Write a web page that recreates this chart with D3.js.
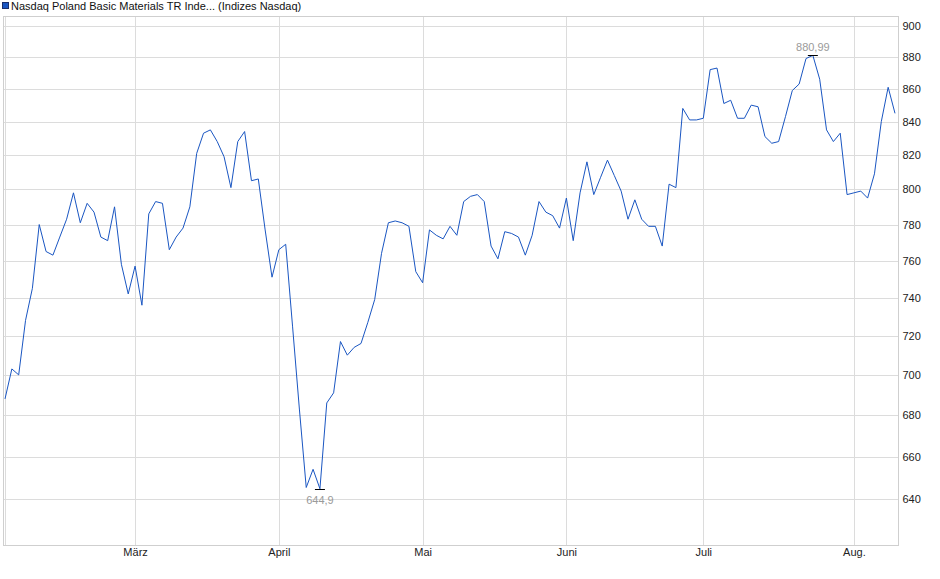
<!DOCTYPE html>
<html>
<head>
<meta charset="utf-8">
<script src="https://cdn.jsdelivr.net/npm/d3@7"></script>
<style>
  body { margin: 0; background: #fff; }
  svg { display: block; font-family: "Liberation Sans", Arial, sans-serif; }
</style>
</head>
<body>
<div id="chart"></div>
<script>
// closing values, one per trading day (Feb - Aug)
var values = [
  688, 703, 700, 728, 745, 780, 765, 763, 773, 783,
  798, 781, 792, 787, 773, 771, 790, 758, 742, 757,
  736, 786, 793, 792, 766, 773, 778, 790, 821, 833,
  835, 828, 819, 801, 828, 834, 805, 806, 777, 751,
  766, 769, 725, 683, 645.5, 654, 644.9, 686, 691, 717,
  710, 714, 716, 727, 739, 764, 781, 782, 781, 779,
  754, 748, 777, 774, 772, 779, 774, 793, 796, 797,
  793, 768, 761, 776, 775, 773, 763, 774, 793, 787,
  785, 778, 795, 771, 798, 816, 797, 807, 817, 808,
  799, 783, 794, 783, 779, 779, 768, 803, 801, 848,
  841, 841, 842, 872, 873, 851, 853, 842, 842, 850,
  849, 831, 827, 828, 843, 859, 863, 879, 880.99, 866,
  835, 828, 833, 797, 798, 799, 795, 809, 840, 861,
  845
];

// index of first trading day of each month
var monthStarts = [0, 19, 40, 61, 82, 102, 124];
var monthLabels = ["", "März", "April", "Mai", "Juni", "Juli", "Aug."];

var yTicks = [640, 660, 680, 700, 720, 740, 760, 780, 800, 820, 840, 860, 880, 900];

var seriesName = "Nasdaq Poland Basic Materials TR Inde... (Indizes Nasdaq)";

var width = 940, height = 579;
var plot = { left: 3.5, right: 898.5, top: 16.5, bottom: 545.5 };

var svg = d3.select('#chart').append('svg')
  .attr('width', width)
  .attr('height', height);

var x = d3.scaleLinear()
  .domain([0, values.length - 1])
  .range([5, 895]);

var y = d3.scaleLog()
  .domain([619.1, 906])
  .range([plot.bottom, plot.top]);

// grid
var grid = svg.append('g').attr('class', 'grid');

grid.selectAll('.hgrid')
  .data(yTicks).enter()
  .append('line')
  .attr('x1', plot.left).attr('x2', plot.right)
  .attr('y1', function(d) { return Math.round(y(d)) + 0.5; })
  .attr('y2', function(d) { return Math.round(y(d)) + 0.5; })
  .attr('stroke', '#dcdcdc');

grid.selectAll('.vgrid')
  .data(monthStarts).enter()
  .append('line')
  .attr('x1', function(d) { return Math.round(x(d)) + 0.5; })
  .attr('x2', function(d) { return Math.round(x(d)) + 0.5; })
  .attr('y1', plot.top).attr('y2', plot.bottom)
  .attr('stroke', '#dcdcdc');

svg.append('rect')
  .attr('x', plot.left).attr('y', plot.top)
  .attr('width', plot.right - plot.left)
  .attr('height', plot.bottom - plot.top)
  .attr('fill', 'none')
  .attr('stroke', '#cfcfcf');

// right axis
var yAxis = d3.axisRight(y)
  .tickValues(yTicks)
  .tickFormat(d3.format('d'))
  .tickSize(0)
  .tickPadding(4);

svg.append('g')
  .attr('transform', 'translate(' + plot.right + ',0)')
  .call(yAxis)
  .call(function(g) { g.select('.domain').remove(); })
  .selectAll('text')
  .attr('font-size', 11)
  .attr('font-family', '"Liberation Sans", Arial, sans-serif')
  .attr('fill', '#222');

// bottom axis
var xAxis = d3.axisBottom(x)
  .tickValues(monthStarts)
  .tickFormat(function(d, i) { return monthLabels[i]; })
  .tickSize(0)
  .tickPadding(3);

svg.append('g')
  .attr('transform', 'translate(0,' + plot.bottom + ')')
  .call(xAxis)
  .call(function(g) { g.select('.domain').remove(); })
  .selectAll('text')
  .attr('font-size', 11)
  .attr('font-family', '"Liberation Sans", Arial, sans-serif')
  .attr('fill', '#222');

// line
var line = d3.line()
  .x(function(d, i) { return x(i); })
  .y(function(d) { return y(d); });

svg.append('path')
  .datum(values)
  .attr('d', line)
  .attr('fill', 'none')
  .attr('stroke', '#1a56c2')
  .attr('stroke-width', 1);

// high / low markers
var hiIdx = d3.maxIndex(values), loIdx = d3.minIndex(values);
var fmt = function(v) { return String(v).replace('.', ','); };

[{ i: hiIdx, dy: -5 }, { i: loIdx, dy: 14 }].forEach(function(m) {
  var px = x(m.i), py = Math.round(y(values[m.i])) + 0.5;
  svg.append('line')
    .attr('x1', px - 5).attr('x2', px + 5)
    .attr('y1', py).attr('y2', py)
    .attr('stroke', '#000');
  svg.append('text')
    .attr('x', px).attr('y', py + m.dy)
    .attr('text-anchor', 'middle')
    .attr('font-size', 11)
    .attr('fill', '#9a9a9a')
    .text(fmt(values[m.i]));
});

// legend
svg.append('rect')
  .attr('x', 2.5).attr('y', 2.5)
  .attr('width', 6).attr('height', 6)
  .attr('fill', '#1a56c2')
  .attr('stroke', '#1b2f6b');

svg.append('text')
  .attr('x', 11).attr('y', 9.5)
  .attr('font-size', 11)
  .attr('fill', '#111')
  .text(seriesName);
</script>
</body>
</html>
